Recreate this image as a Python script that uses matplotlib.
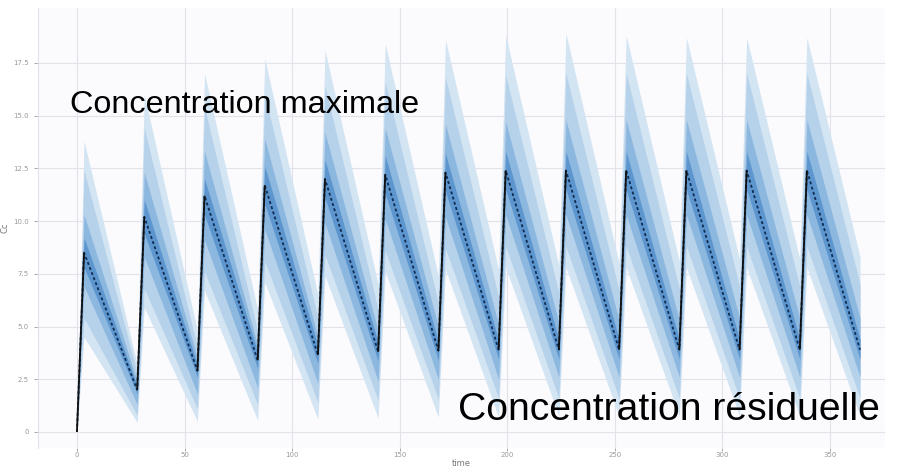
import numpy as np
import matplotlib
matplotlib.use("Agg")
import matplotlib.pyplot as plt

# ---------------- data ----------------
dose_days = [0, 28, 56, 84, 112, 140, 168, 196, 224, 252, 280, 308, 336]
tau = 28          # dosing interval (days)
tmax = 3.3        # time of peak after each dose (days)

q50_peak   = [8.5, 10.2, 11.2, 11.7, 12.0, 12.2, 12.3, 12.4, 12.4, 12.4, 12.4, 12.4, 12.4]
q50_trough = [2.0, 2.9, 3.4, 3.65, 3.8, 3.85, 3.9, 3.9, 3.9, 3.9, 3.9, 3.9, 3.9]

q95_peak   = [13.8, 16.0, 17.0, 17.7, 18.1, 18.4, 18.6, 18.8, 18.9, 18.8, 18.7, 18.7, 18.7]
q95_trough = [3.2, 4.8, 5.8, 6.5, 7.0, 7.4, 7.7, 7.9, 8.0, 8.1, 8.2, 8.2, 8.3]
q90_peak   = [12.4, 14.4, 15.4, 16.0, 16.4, 16.6, 16.8, 16.9, 17.0, 17.0, 17.0, 17.0, 17.0]
q90_trough = [2.8, 4.0, 4.8, 5.4, 5.8, 6.1, 6.4, 6.6, 6.7, 6.8, 6.9, 6.9, 7.0]
q75_peak   = [10.3, 12.3, 13.3, 13.9, 14.2, 14.4, 14.6, 14.7, 14.8, 14.8, 14.8, 14.8, 14.8]
q75_trough = [2.4, 3.5, 4.1, 4.5, 4.8, 5.0, 5.1, 5.2, 5.3, 5.3, 5.4, 5.4, 5.4]
q60_peak   = [9.2, 11.0, 12.0, 12.6, 12.9, 13.1, 13.2, 13.3, 13.3, 13.3, 13.3, 13.3, 13.3]
q60_trough = [2.2, 3.2, 3.8, 4.1, 4.25, 4.3, 4.35, 4.4, 4.4, 4.4, 4.4, 4.4, 4.4]
q40_peak   = [7.8, 9.4, 10.3, 10.8, 11.1, 11.3, 11.4, 11.5, 11.5, 11.5, 11.5, 11.5, 11.5]
q40_trough = [1.8, 2.6, 3.0, 3.25, 3.35, 3.4, 3.45, 3.45, 3.45, 3.45, 3.45, 3.45, 3.45]
q25_peak   = [6.9, 8.3, 9.1, 9.6, 9.9, 10.1, 10.2, 10.3, 10.3, 10.3, 10.3, 10.3, 10.3]
q25_trough = [1.3, 1.8, 2.1, 2.3, 2.4, 2.5, 2.5, 2.6, 2.6, 2.6, 2.6, 2.6, 2.6]
q10_peak   = [5.4, 6.8, 7.6, 8.1, 8.4, 8.6, 8.7, 8.8, 8.8, 8.8, 8.8, 8.8, 8.8]
q10_trough = [0.8, 1.1, 1.3, 1.4, 1.5, 1.55, 1.6, 1.6, 1.6, 1.6, 1.6, 1.6, 1.6]
q05_peak   = [4.5, 5.9, 6.7, 7.1, 7.4, 7.6, 7.7, 7.8, 7.8, 7.8, 7.8, 7.8, 7.8]
q05_trough = [0.45, 0.5, 0.55, 0.6, 0.65, 0.7, 0.7, 0.75, 0.75, 0.75, 0.75, 0.75, 0.75]

x_ticks = [0, 50, 100, 150, 200, 250, 300, 350]
y_ticks = [0, 2.5, 5, 7.5, 10, 12.5, 15, 17.5]
y_tick_labels = ["0", "2.5", "5.0", "7.5", "10.0", "12.5", "15.0", "17.5"]
x_label = "time"
y_label = "Cc"
label_max = "Concentration maximale"
label_min = "Concentration résiduelle"


def build(peaks, troughs):
    t, c = [], []
    prev = 0.0
    for d, p, tr in zip(dose_days, peaks, troughs):
        t += [d, d + tmax]
        c += [prev, p]
        prev = tr
    t.append(dose_days[-1] + tau)
    c.append(prev)
    return np.array(t), np.array(c)


W, H = 897, 468
fig = plt.figure(figsize=(W / 100, H / 100), dpi=100)
fig.patch.set_facecolor("white")
L, R, T, B = 38, 885, 8, 448
ax = fig.add_axes([L / W, 1 - B / H, (R - L) / W, (B - T) / H])
ax.set_facecolor("#fbfbfe")

t, m = build(q50_peak, q50_trough)
bands = [
    (build(q05_peak, q05_trough)[1], build(q95_peak, q95_trough)[1], "#d3e4f2"),
    (build(q10_peak, q10_trough)[1], build(q90_peak, q90_trough)[1], "#b6d1ea"),
    (build(q25_peak, q25_trough)[1], build(q75_peak, q75_trough)[1], "#8cb7df"),
    (build(q40_peak, q40_trough)[1], build(q60_peak, q60_trough)[1], "#5d96ce"),
]
for lo, hi, col in bands:
    ax.fill_between(t, lo, hi, color=col, lw=0, zorder=2)

# median: dashed on decay, solid on the rise
ax.plot(t, m, color="#0f2c52", lw=1.3, dashes=(1.6, 1.4), zorder=3)
for i in range(0, len(t) - 1, 2):
    ax.plot(t[i:i + 2], m[i:i + 2], color="#111111", lw=1.3, zorder=4,
            solid_capstyle="butt")

ax.set_xlim(-18.1, 375.6)
ax.set_ylim(-0.76, 20.1)
ax.set_xticks(x_ticks)
ax.set_yticks(y_ticks)
ax.set_xticklabels([str(v) for v in x_ticks])
ax.set_yticklabels(y_tick_labels)
ax.grid(True, color="#e2e2ea", lw=0.8, zorder=0)
ax.set_axisbelow(True)
for s in ["top", "right", "bottom"]:
    ax.spines[s].set_visible(False)
ax.spines["left"].set_color("#e2e2ea")
ax.tick_params(axis="both", labelsize=5, colors="#9a9a9a", length=3, width=0.6)
ax.tick_params(axis="x", pad=1, length=2)
ax.set_ylabel(y_label, fontsize=6, color="#777777", labelpad=3)
fig.text((L + R) / 2 / W, 1 - 463 / H, x_label, fontsize=6, color="#777777",
         ha="center", va="center")

fam = ["Liberation Sans", "DejaVu Sans"]
fig.text(70 / W, 1 - 113 / H, label_max, fontsize=23.3, family=fam,
         color="black", ha="left", va="baseline", zorder=10)
fig.text(458 / W, 1 - 420 / H, label_min, fontsize=28.2, family=fam,
         color="black", ha="left", va="baseline", zorder=10)

fig.savefig("out.png", dpi=100)
